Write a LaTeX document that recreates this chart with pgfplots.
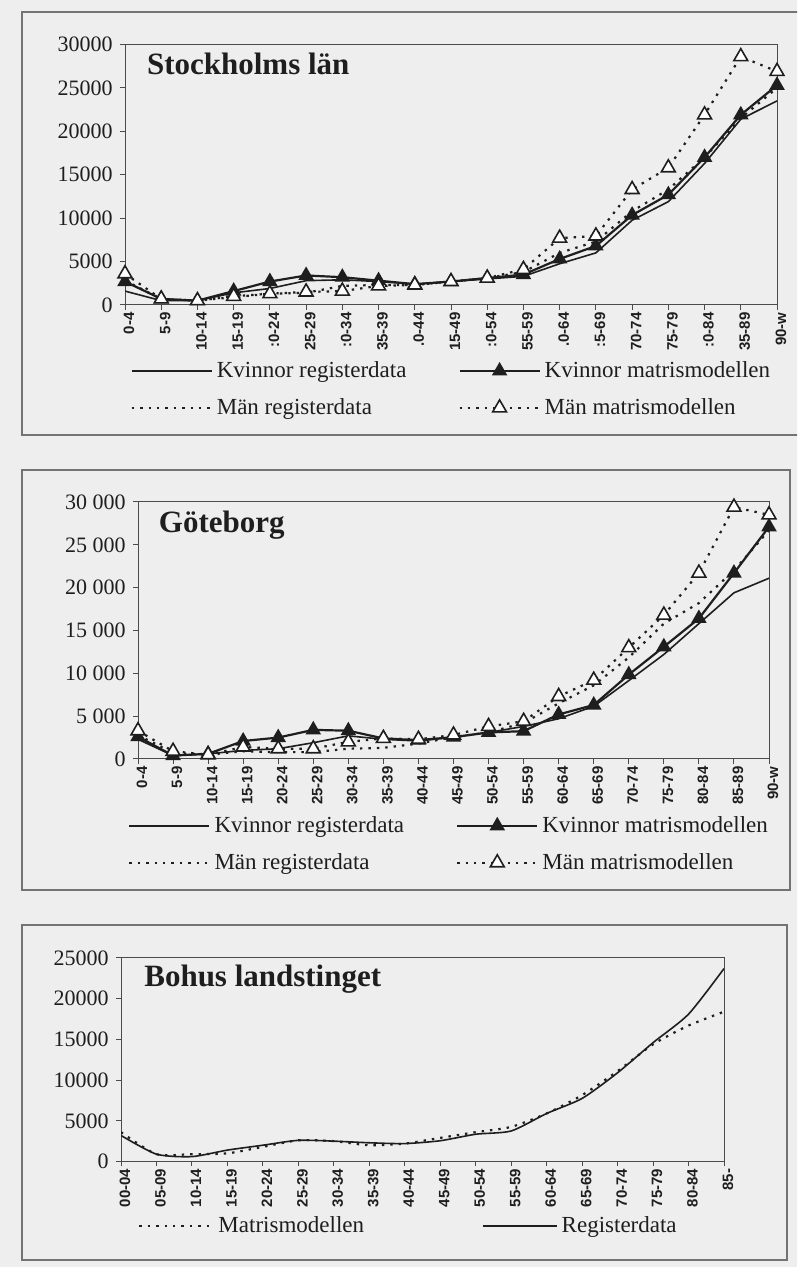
\documentclass[border=0pt]{standalone}
\usepackage{pgfplots}
\usepackage{pgfplotstable}
\pgfplotsset{compat=1.18}
\usepackage{fontspec}
\setmainfont{Liberation Serif}
\setsansfont{Liberation Sans}
\definecolor{paper}{HTML}{EEEEEE}
\definecolor{ink}{HTML}{1E1E1E}

\pgfplotstableread{
x Kr Km Mr Mm
0 1600 2700 2800 3600
1 500 700 700 700
2 500 500 500 500
3 1400 1600 900 1000
4 1900 2700 1300 1300
5 2800 3400 1400 1500
6 2900 3200 2200 1600
7 2700 2800 2300 2200
8 2400 2400 2300 2300
9 2700 2700 2700 2700
10 3000 3100 3100 3100
11 3300 3500 3800 4100
12 4750 5300 6000 7700
13 6000 6800 7300 7950
14 9760 10350 10800 13300
15 11900 12700 13300 15800
16 16300 17000 17000 21900
17 21400 21900 21500 28600
18 23500 25300 25000 26900
}\stockholm

\pgfplotstableread{
x Kr Km Mr Mm
0 2300 2600 2800 3300
1 400 400 700 900
2 600 600 500 500
3 1000 2100 900 1400
4 1200 2500 800 1200
5 1900 3400 800 1200
6 2700 3300 1200 2000
7 2300 2400 1300 2400
8 2100 2200 1800 2300
9 2550 2550 2550 2800
10 3100 3100 3100 3800
11 3800 3250 4200 4400
12 4700 5200 6500 7300
13 6150 6300 8600 9200
14 9150 9850 11850 13000
15 12200 13100 15800 16800
16 15800 16400 18200 21700
17 19400 21700 22000 29400
18 21100 27100 26700 28500
}\goteborg

\pgfplotstableread{
x Mt Kr
0 3600 3200
1 900 900
2 900 600
3 1000 1400
4 1800 2000
5 2600 2600
6 2500 2500
7 2000 2300
8 2200 2200
9 2900 2550
10 3600 3350
11 4250 3750
12 5900 5900
13 8150 7750
14 11100 10900
15 14400 14600
16 16700 18100
17 18400 23700
}\bohus

\pgfplotsset{
  panel/.style={
    scale only axis, anchor=south west,
    xmin=0, ymin=0, scaled y ticks=false,
    axis line style={line width=0.5pt, ink!80},
    tick align=outside, xtick pos=left, ytick pos=left,
    major tick length=2.5pt,
    tick style={ink!80, line width=0.5pt},
    x tick label style={rotate=90, anchor=east, font=\sffamily\bfseries\fontsize{7.5}{8}\selectfont, inner sep=1pt, yshift=-2pt, text=ink},
    y tick label style={font=\fontsize{11}{12}\selectfont, inner sep=1pt, xshift=-2.5pt, text=ink},
    legend style={draw=none, fill=none, font=\fontsize{11.5}{13}\selectfont, text=ink,
      legend columns=2, anchor=north west, inner sep=0pt, row sep=5pt,
      nodes={inner sep=2pt},
      /tikz/every even column/.append style={column sep=24pt}},
    legend cell align=left,
    legend image code/.code={\draw[mark repeat=2,mark phase=2,##1] plot coordinates {(0pt,0pt) (20pt,0pt) (40pt,0pt)};},
  },
  kr/.style={ink, line width=0.8pt, no markers},
  km/.style={ink, line width=1.1pt, mark=triangle*, mark size=3.4pt, mark options={fill=ink, draw=ink}},
  mr/.style={ink, line width=1.1pt, dash pattern=on 1.2pt off 3pt, no markers},
  mm/.style={ink, line width=1.1pt, dash pattern=on 1.2pt off 3pt, mark=triangle*, mark size=4pt, mark options={solid, fill=white, draw=ink, line width=0.8pt}},
}

\begin{document}
\begin{tikzpicture}[x=0.5pt,y=0.5pt]
\useasboundingbox (0,0) rectangle (797,1267);
\clip (0,0) rectangle (797,1267);
\fill[paper] (0,0) rectangle (797,1267);
\draw[black!55, line width=0.6pt] (22,1255) rectangle (820,832);
\draw[black!55, line width=0.6pt] (22,797) rectangle (790,377);
\draw[black!55, line width=0.6pt] (22,342) rectangle (787,7);

% ---------------- Stockholms län
\begin{axis}[panel, at={(62.5pt,481pt)}, width=326pt, height=130.25pt,
  xmax=18, ymax=30000,
  xtick={0,...,18},
  xticklabels={0-4,5-9,10-14,15-19,:0-24,25-29,:0-34,35-39,.0-44,15-49,:0-54,55-59,.0-64,:5-69,70-74,75-79,:0-84,35-89,90-w},
  ytick={0,5000,10000,15000,20000,25000,30000},
  yticklabels={0,5000,10000,15000,20000,25000,30000},
  legend style={at={(0.008,-0.2)}},
]
\addplot[kr] table[x=x,y=Kr] {\stockholm};
\addlegendentry{Kvinnor registerdata}
\addplot[km] table[x=x,y=Km] {\stockholm};
\addlegendentry{Kvinnor matrismodellen}
\addplot[mr] table[x=x,y=Mr] {\stockholm};
\addlegendentry{Män registerdata}
\addplot[mm] table[x=x,y=Mm] {\stockholm};
\addlegendentry{Män matrismodellen}
\node[anchor=base west, font=\bfseries\fontsize{15.5}{16}\selectfont, text=ink] at (axis description cs:0.023,0.885) {Stockholms län};
\end{axis}

% ---------------- Göteborg
\begin{axis}[panel, at={(69pt,254pt)}, width=315.5pt, height=128.5pt,
  xmax=18, ymax=30000,
  xtick={0,...,18},
  xticklabels={0-4,5-9,10-14,15-19,20-24,25-29,30-34,35-39,40-44,45-49,50-54,55-59,60-64,65-69,70-74,75-79,80-84,85-89,90-w},
  ytick={0,5000,10000,15000,20000,25000,30000},
  yticklabels={0,5~000,10~000,15~000,20~000,25~000,30~000},
  legend style={at={(-0.016,-0.206)}},
]
\addplot[kr] table[x=x,y=Kr] {\goteborg};
\addlegendentry{Kvinnor registerdata}
\addplot[km] table[x=x,y=Km] {\goteborg};
\addlegendentry{Kvinnor matrismodellen}
\addplot[mr] table[x=x,y=Mr] {\goteborg};
\addlegendentry{Män registerdata}
\addplot[mm] table[x=x,y=Mm] {\goteborg};
\addlegendentry{Män matrismodellen}
\node[anchor=base west, font=\bfseries\fontsize{15.5}{16}\selectfont, text=ink] at (axis description cs:0.022,0.882) {Göteborg};
\end{axis}

% ---------------- Bohus landstinget
\begin{axis}[panel, at={(60.5pt,52.75pt)}, width=301.5pt, height=101.75pt,
  xmax=17, ymax=25000,
  xtick={0,...,17},
  xticklabels={00-04,05-09,10-14,15-19,20-24,25-29,30-34,35-39,40-44,45-49,50-54,55-59,60-64,65-69,70-74,75-79,80-84,85-},
  ytick={0,5000,10000,15000,20000,25000},
  yticklabels={0,5000,10000,15000,20000,25000},
  legend style={at={(0.028,-0.248)}, /tikz/every even column/.append style={column sep=57pt}},
  legend image code/.code={\draw[#1] (0pt,0pt) -- (37pt,0pt);},
]
\addplot[mr, smooth, tension=0.4] table[x=x,y=Mt] {\bohus};
\addlegendentry{Matrismodellen}
\addplot[kr, smooth, tension=0.4] table[x=x,y=Kr] {\bohus};
\addlegendentry{Registerdata}
\node[anchor=base west, font=\bfseries\fontsize{15.5}{16}\selectfont, text=ink] at (axis description cs:0.027,0.858) {Bohus landstinget};
\end{axis}
\end{tikzpicture}
\end{document}
